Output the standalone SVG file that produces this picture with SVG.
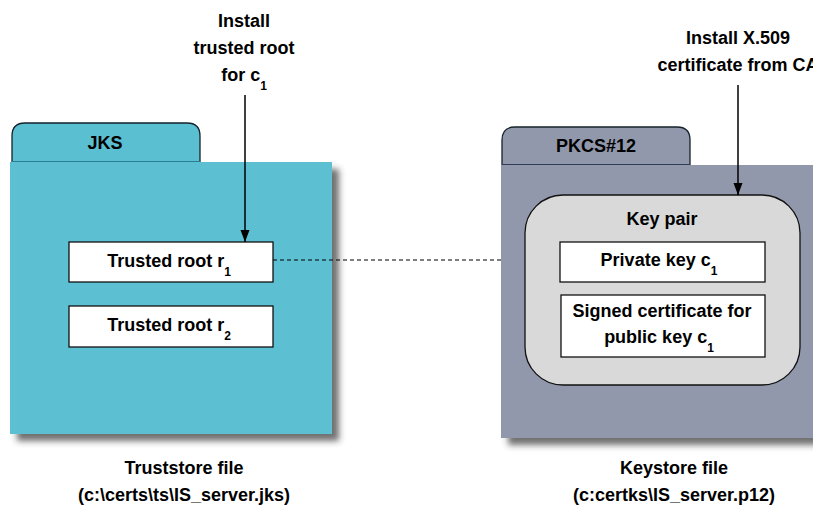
<svg xmlns="http://www.w3.org/2000/svg" width="813" height="506" viewBox="0 0 813 506">
<defs>
  <filter id="sh" x="-10%" y="-10%" width="130%" height="130%">
    <feDropShadow dx="7" dy="7" stdDeviation="3" flood-color="#333" flood-opacity="0.7"/>
  </filter>
  <marker id="ah" markerWidth="12" markerHeight="16" refX="6" refY="15" orient="auto-start-reverse" markerUnits="userSpaceOnUse" viewBox="0 0 12 16">
    <path d="M0,0 L12,0 L6,16 Z" fill="#000" transform="rotate(-90 6 8) translate(0 0)"/>
  </marker>
  <marker id="arr" markerWidth="12" markerHeight="16" refX="16" refY="6" orient="auto" markerUnits="userSpaceOnUse" viewBox="0 0 16 12">
    <path d="M0,0 L16,6 L0,12 Z" fill="#000"/>
  </marker>
</defs>
<style>
  text { font-family: "Liberation Sans", Arial, sans-serif; font-weight: bold; font-size: 18px; fill: #000; text-anchor: middle; }
  .sub { font-size: 12px; }
  .tab { stroke: #15232b; stroke-width: 1.3; }
  .box { fill: #fff; stroke: #111; stroke-width: 1.3; }
  .conn { stroke: #000; stroke-width: 1.5; fill: none; }
</style>

<g id="jks">
  <path class="tab" d="M12,163 V136 Q12,123 25,123 H187 Q200,123 200,136 V163" fill="#5bbfd2"/>
  <rect x="10" y="162" width="322" height="272" fill="#5bbfd2" filter="url(#sh)"/>
  <line x1="12" y1="161.5" x2="200" y2="161.5" stroke="#2a7f94" stroke-width="1.2"/>
  <text x="105" y="149">JKS</text>
</g>

<g id="trusted-root-1">
  <rect class="box" x="69" y="242" width="204" height="40"/>
  <text x="169" y="267">Trusted root r<tspan class="sub" dy="9">1</tspan></text>
</g>

<g id="trusted-root-2">
  <rect class="box" x="69" y="306" width="204" height="41"/>
  <text x="169" y="331">Trusted root r<tspan class="sub" dy="9">2</tspan></text>
</g>

<g id="pkcs12">
  <path class="tab" d="M502,166 V140 Q502,127 515,127 H677 Q690,127 690,140 V166" fill="#9198ab"/>
  <rect x="501" y="165" width="340" height="273" fill="#9198ab" filter="url(#sh)"/>
  <line x1="502" y1="164.5" x2="690" y2="164.5" stroke="#2e3c5a" stroke-width="1.2"/>
  <text x="596" y="152">PKCS#12</text>
</g>

<g id="key-pair">
  <rect x="525" y="195" width="275" height="190" rx="38" ry="38" fill="#d9d9d9" stroke="#111" stroke-width="1.3"/>
  <text x="662" y="225">Key pair</text>
</g>

<g id="private-key">
  <rect class="box" x="560" y="242" width="205" height="40"/>
  <text x="659" y="266">Private key c<tspan class="sub" dy="9">1</tspan></text>
</g>

<g id="signed-cert">
  <rect class="box" x="561" y="295" width="204" height="62"/>
  <text x="662" y="317">Signed certificate for</text>
  <text x="659" y="343">public key c<tspan class="sub" dy="9">1</tspan></text>
</g>

<g id="label-install-root">
  <text x="244" y="27">Install</text>
  <text x="244" y="54">trusted root</text>
  <text x="244" y="81">for c<tspan class="sub" dy="9">1</tspan></text>
</g>

<g id="label-install-x509">
  <text x="738" y="44">Install X.509</text>
  <text x="738" y="71">certificate from CA</text>
</g>

<g id="label-truststore">
  <text x="184" y="474">Truststore file</text>
  <text x="184" y="501">(c:\certs\ts\IS_server.jks)</text>
</g>

<g id="label-keystore">
  <text x="674" y="474">Keystore file</text>
  <text x="674" y="501">(c:certks\IS_server.p12)</text>
</g>

<g id="connectors">
  <line class="conn" x1="245" y1="95" x2="245" y2="242" marker-end="url(#arr)"/>
  <line class="conn" x1="738" y1="85" x2="738" y2="195" marker-end="url(#arr)"/>
  <line x1="273" y1="260" x2="501" y2="260" stroke="#000" stroke-width="1.2" stroke-dasharray="4,3"/>
</g>
</svg>
